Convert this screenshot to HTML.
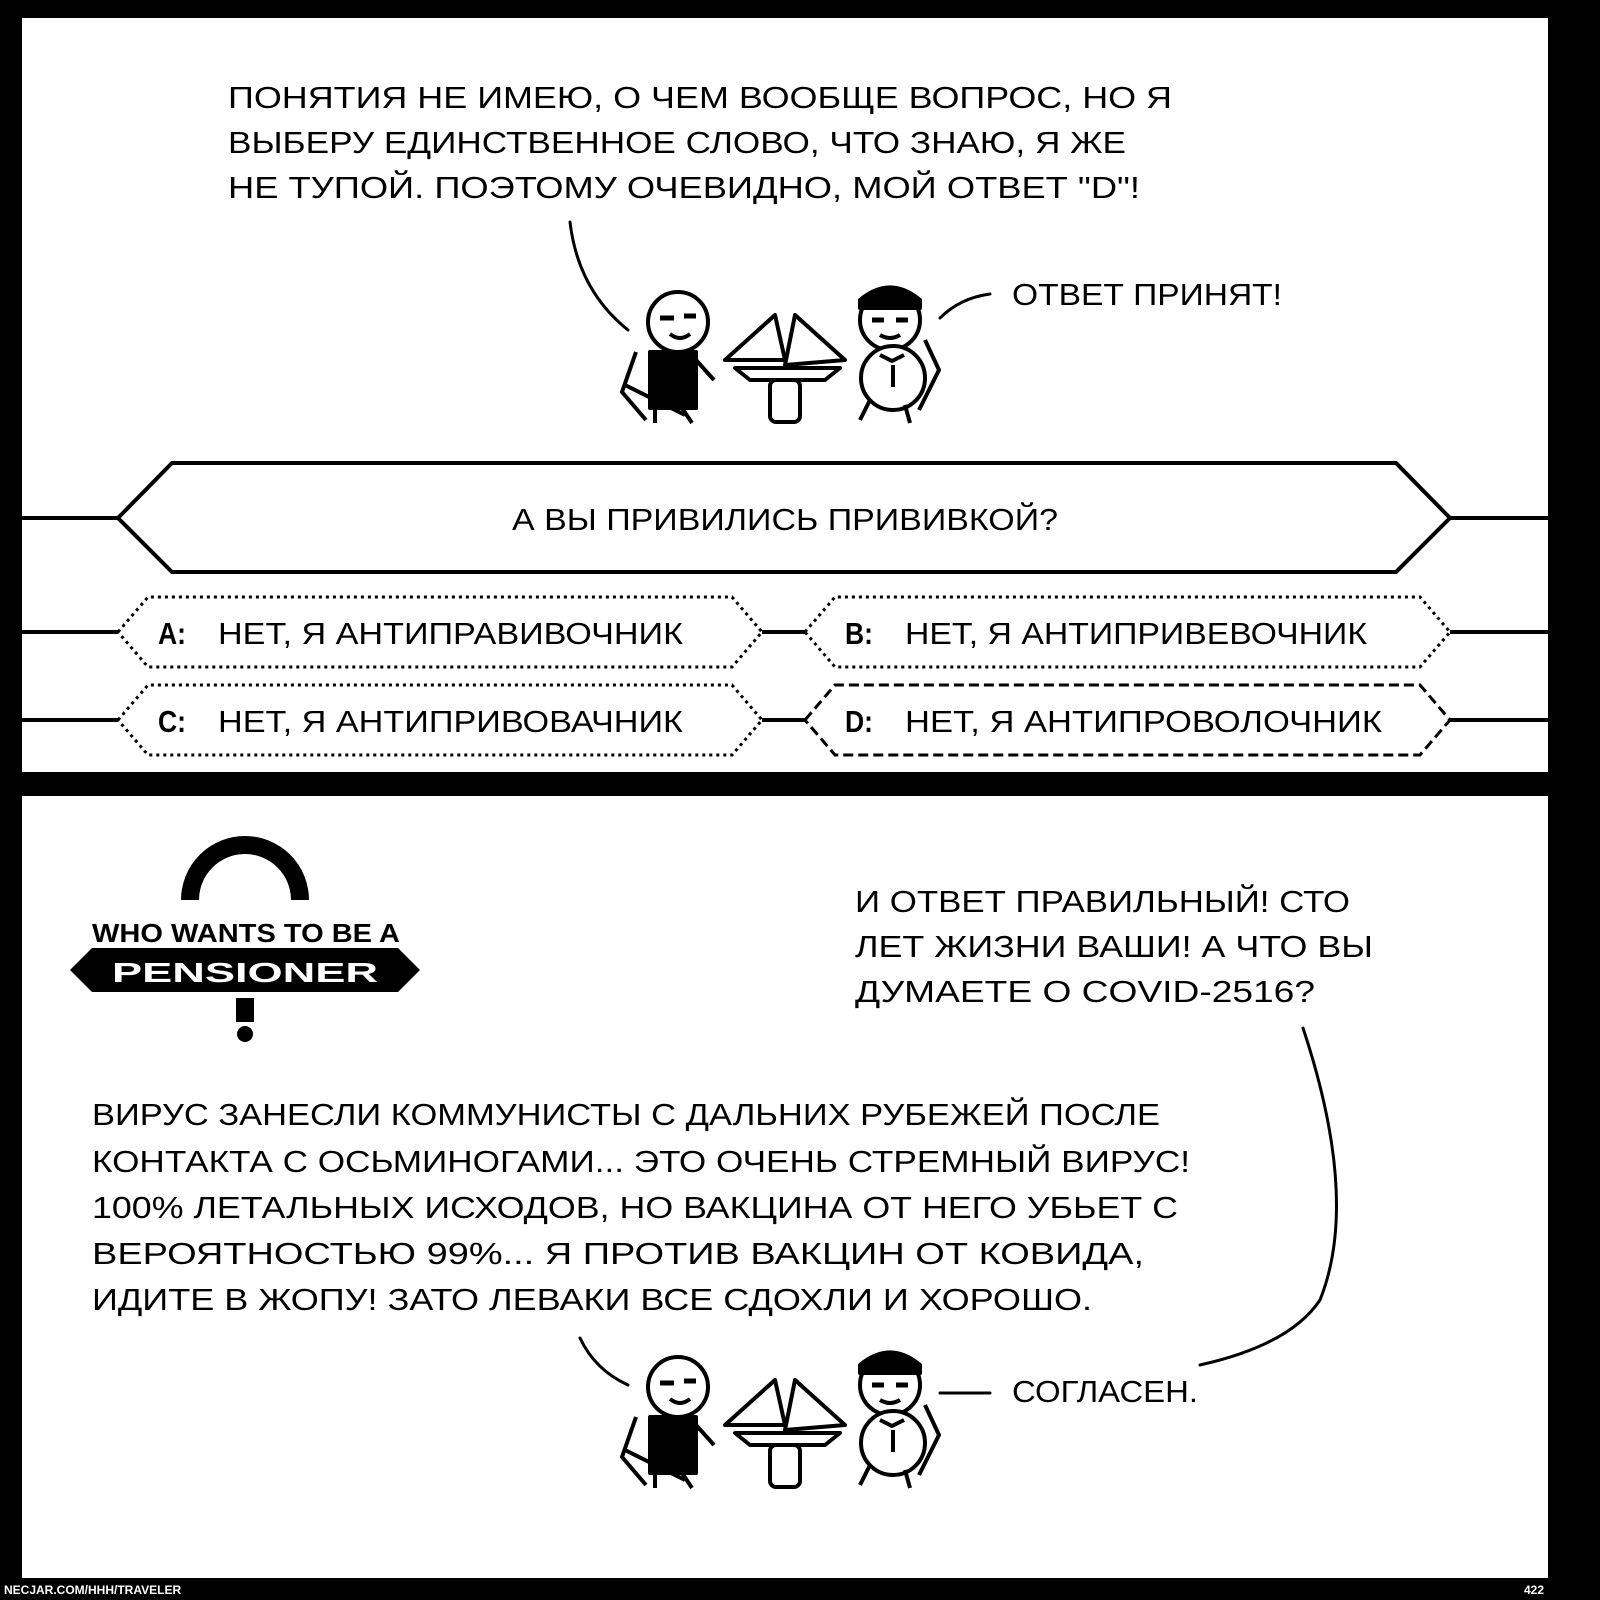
<!DOCTYPE html>
<html><head><meta charset="utf-8">
<style>
html,body{margin:0;padding:0;background:#000;}
svg{display:block}
text{font-family:"Liberation Sans",sans-serif;fill:#000;}
</style></head><body>
<svg width="1600" height="1600" viewBox="0 0 1600 1600" xmlns="http://www.w3.org/2000/svg">
<rect width="1600" height="1600" fill="#000"/>
<rect x="22" y="18" width="1526" height="754" fill="#fff"/>
<rect x="22" y="796" width="1526" height="782" fill="#fff"/>

<g font-size="31">
<text x="228" y="108" textLength="944" lengthAdjust="spacingAndGlyphs">ПОНЯТИЯ НЕ ИМЕЮ, О ЧЕМ ВООБЩЕ ВОПРОС, НО Я</text>
<text x="228" y="153" textLength="898" lengthAdjust="spacingAndGlyphs">ВЫБЕРУ ЕДИНСТВЕННОЕ СЛОВО, ЧТО ЗНАЮ, Я ЖЕ</text>
<text x="228" y="198" textLength="912" lengthAdjust="spacingAndGlyphs">НЕ ТУПОЙ. ПОЭТОМУ ОЧЕВИДНО, МОЙ ОТВЕТ "D"!</text>
<text x="1012" y="305" textLength="270" lengthAdjust="spacingAndGlyphs">ОТВЕТ ПРИНЯТ!</text>
</g>
<g fill="none" stroke="#000" stroke-width="3" stroke-linecap="round">
<path d="M570 222 Q578 290 628 330"/>
<path d="M940 318 Q960 298 990 294"/>
</g>

<g id="scene" fill="none" stroke="#000" stroke-width="4" stroke-linejoin="round">
<circle cx="678" cy="322" r="30" fill="#fff"/>
<path d="M660 318 h14 M684 316 h12" stroke-width="5"/>
<path d="M670 334 q10 8 20 0" />
<rect x="650" y="352" width="46" height="56" fill="#000"/>
<path d="M636 352 l-14 40 l24 28 M625 385 l60 30"/>
<path d="M655 408 v15 M682 408 l10 15"/>
<path d="M696 360 l18 20"/>
<path d="M725 360 l50 -45 l10 45 z" fill="#fff"/>
<path d="M795 315 l50 45 l-60 5 z" fill="#fff"/>
<path d="M735 368 h105 l-15 12 h-75 z" fill="#fff"/>
<rect x="770" y="380" width="30" height="42" rx="6" fill="#fff"/>
<circle cx="890" cy="320" r="30" fill="#fff"/>
<path d="M860 300 q30 -25 60 0 v8 h-60 z" fill="#000"/>
<path d="M872 320 h12 M896 320 h12" stroke-width="5"/>
<path d="M880 335 q10 6 20 0"/>
<circle cx="893" cy="378" r="32" fill="#fff"/>
<path d="M880 355 l12 6 l12 -6 M893 365 v22"/>
<path d="M925 340 l14 30 l-20 40 M870 400 l-10 20 M905 405 l5 18"/>
</g>

<g fill="none" stroke="#000" stroke-width="4">
<path d="M22 518 H118 M1450 518 H1548"/>
<path d="M118 518 L172 463 H1396 L1450 518 L1396 572 H172 Z"/>
<path d="M22 632 H118 M762 632 H805 M1450 632 H1548 M22 720 H118 M762 720 H805 M1450 720 H1548"/>
<g stroke-dasharray="3 4" stroke-width="3">
<path d="M118 632 L148 597 H732 L762 632 L732 667 H148 Z"/>
<path d="M805 632 L835 597 H1420 L1450 632 L1420 667 H835 Z"/>
<path d="M118 720 L148 685 H732 L762 720 L732 755 H148 Z"/>
</g>
<path d="M805 720 L835 685 H1420 L1450 720 L1420 755 H835 Z" stroke-dasharray="10 5" stroke-width="3"/>
</g>
<g font-size="31">
<text x="512" y="530" textLength="546" lengthAdjust="spacingAndGlyphs">А ВЫ ПРИВИЛИСЬ ПРИВИВКОЙ?</text>
<text x="158" y="644" font-weight="bold" textLength="28" lengthAdjust="spacingAndGlyphs">A:</text>
<text x="218" y="644" textLength="465" lengthAdjust="spacingAndGlyphs">НЕТ, Я АНТИПРАВИВОЧНИК</text>
<text x="845" y="644" font-weight="bold" textLength="28" lengthAdjust="spacingAndGlyphs">B:</text>
<text x="905" y="644" textLength="462" lengthAdjust="spacingAndGlyphs">НЕТ, Я АНТИПРИВЕВОЧНИК</text>
<text x="158" y="732" font-weight="bold" textLength="28" lengthAdjust="spacingAndGlyphs">C:</text>
<text x="218" y="732" textLength="465" lengthAdjust="spacingAndGlyphs">НЕТ, Я АНТИПРИВОВАЧНИК</text>
<text x="845" y="732" font-weight="bold" textLength="28" lengthAdjust="spacingAndGlyphs">D:</text>
<text x="905" y="732" textLength="477" lengthAdjust="spacingAndGlyphs">НЕТ, Я АНТИПРОВОЛОЧНИК</text>
</g>

<g>
<path d="M190 900 A55 55 0 0 1 300 900" fill="none" stroke="#000" stroke-width="18"/>
<text x="92" y="942" font-size="26" font-weight="bold" textLength="308" lengthAdjust="spacingAndGlyphs">WHO WANTS TO BE A</text>
<path d="M70 970 L92 948 H398 L420 970 L398 992 H92 Z" fill="#000"/>
<text x="112" y="982" font-size="28" font-weight="bold" style="fill:#fff" textLength="266" lengthAdjust="spacingAndGlyphs">PENSIONER</text>
<rect x="236" y="998" width="18" height="24" fill="#000"/>
<circle cx="245" cy="1034" r="8" fill="#000"/>
</g>

<g font-size="31">
<text x="855" y="912" textLength="495" lengthAdjust="spacingAndGlyphs">И ОТВЕТ ПРАВИЛЬНЫЙ! СТО</text>
<text x="855" y="957" textLength="518" lengthAdjust="spacingAndGlyphs">ЛЕТ ЖИЗНИ ВАШИ! А ЧТО ВЫ</text>
<text x="855" y="1002" textLength="460" lengthAdjust="spacingAndGlyphs">ДУМАЕТЕ О COVID-2516?</text>
<text x="92" y="1125" textLength="1068" lengthAdjust="spacingAndGlyphs">ВИРУС ЗАНЕСЛИ КОММУНИСТЫ С ДАЛЬНИХ РУБЕЖЕЙ ПОСЛЕ</text>
<text x="92" y="1172" textLength="1098" lengthAdjust="spacingAndGlyphs">КОНТАКТА С ОСЬМИНОГАМИ... ЭТО ОЧЕНЬ СТРЕМНЫЙ ВИРУС!</text>
<text x="92" y="1218" textLength="1086" lengthAdjust="spacingAndGlyphs">100% ЛЕТАЛЬНЫХ ИСХОДОВ, НО ВАКЦИНА ОТ НЕГО УБЬЕТ С</text>
<text x="92" y="1264" textLength="1052" lengthAdjust="spacingAndGlyphs">ВЕРОЯТНОСТЬЮ 99%... Я ПРОТИВ ВАКЦИН ОТ КОВИДА,</text>
<text x="92" y="1310" textLength="1000" lengthAdjust="spacingAndGlyphs">ИДИТЕ В ЖОПУ! ЗАТО ЛЕВАКИ ВСЕ СДОХЛИ И ХОРОШО.</text>
<text x="1012" y="1402" textLength="186" lengthAdjust="spacingAndGlyphs">СОГЛАСЕН.</text>
</g>
<g fill="none" stroke="#000" stroke-width="3" stroke-linecap="round">
<path d="M1303 1028 Q1360 1200 1320 1300 Q1290 1345 1200 1365"/>
<path d="M580 1338 Q595 1370 628 1385"/>
<path d="M940 1393 H990"/>
</g>
<use href="#scene" transform="translate(0 1065)"/>

<text x="4" y="1594" font-size="12" font-weight="bold" style="fill:#fff">NECJAR.COM/HHH/TRAVELER</text>
<text x="1524" y="1594" font-size="12" font-weight="bold" style="fill:#fff">422</text>
</svg>
</body></html>
